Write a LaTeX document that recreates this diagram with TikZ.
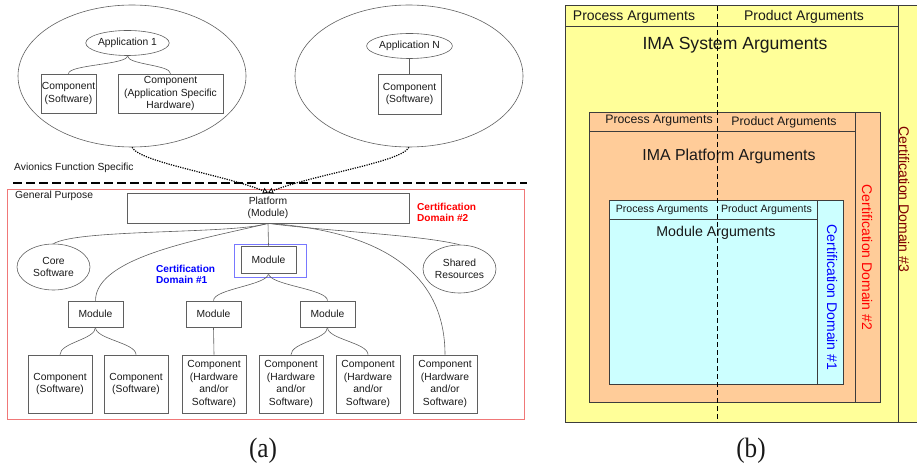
\documentclass[tikz,border=0pt]{standalone}
\usepackage{fontspec}
\setmainfont{Liberation Sans}
\newfontfamily\capfont{Liberation Serif}
\usetikzlibrary{arrows.meta,shapes.geometric}
\newcommand\setfs[2]{\fontsize{#1}{#2}\selectfont}

\definecolor{inktext}{RGB}{25,25,25}
\definecolor{linegray}{RGB}{95,95,95}
\definecolor{frameline}{RGB}{60,60,60}
\definecolor{gpred}{RGB}{240,120,120}
\definecolor{cdblue}{RGB}{120,120,255}
\definecolor{sysyellow}{RGB}{255,255,153}
\definecolor{platpeach}{RGB}{255,204,153}
\definecolor{modcyan}{RGB}{204,255,255}
\definecolor{domthree}{RGB}{128,0,0}

\begin{document}
\begin{tikzpicture}[x=1pt,y=-1pt,
  every node/.style={inner sep=0pt, align=center, text=inktext},
  txt/.style={font=\setfs{10.3}{12.6}},
  conn/.style={draw=linegray, line width=0.6pt},
  rbox/.style={draw=linegray, line width=0.7pt, txt},
  comp/.style={rbox, minimum width=64pt, minimum height=58pt},
  modbox/.style={rbox, minimum width=55pt, minimum height=26pt},
  oval/.style={draw=linegray, line width=0.6pt, ellipse, txt},
  dotlink/.style={draw=black, line width=1.2pt, dash pattern=on 1.2pt off 1.2pt,
    -{Triangle[open,length=5pt,width=6pt,line width=0.8pt]}},
  domlabel/.style={font=\bfseries\setfs{10.1}{11.6}, align=left},
  frame/.style={draw=frameline, line width=1pt},
  argsmall/.style={font=\setfs{10.6}{12}},
  argmid/.style={font=\setfs{12.3}{14}},
  arglarge/.style={font=\setfs{14}{16}},
  sidelabel/.style={font=\setfs{14}{16}, rotate=-90},
  caption/.style={font=\capfont\setfs{28}{30}}
]
\useasboundingbox (0,0) rectangle (917,470);

%% ---------------- (a) layered architecture ----------------
% application ellipses
\node[oval, minimum width=228pt, minimum height=142pt] (app1area) at (132,76) {};
\node[oval, minimum width=228pt, minimum height=142pt] (appNarea) at (409,76) {};
\node[oval, minimum width=72pt, minimum height=25pt] (app1) at (127.5,43) {Application 1};
\node[oval, minimum width=83pt, minimum height=25pt] (appN) at (409.5,46) {Application N};
\node[rbox, minimum width=55pt, minimum height=39pt] (a1sw) at (68.5,93.5) {Component\\(Software)};
\node[rbox, minimum width=105pt, minimum height=39pt] (a1hw) at (170.5,93.5) {Component\\(Application Specific\\Hardware)};
\node[rbox, minimum width=63pt, minimum height=40pt] (aNsw) at (409.5,94) {Component\\(Software)};

\draw[conn] (app1.south) .. controls +(0,9) and +(0,-9) .. (a1sw.north);
\draw[conn] (app1.south) .. controls +(0,9) and +(0,-9) .. (a1hw.north);
\draw[conn] (appN.south) -- (aNsw.north);

% split between function specific and general purpose layers
\node[txt, anchor=west] (afs) at (14,168) {Avionics Function Specific};
\coordinate (splitL) at (13,183);
\coordinate (splitR) at (527,183);
\draw[black, line width=2.2pt, dash pattern=on 9pt off 4pt] (splitL) -- (splitR);

% general purpose region
\draw[gpred, line width=1pt] (7,190) rectangle (524,419);
\node[txt, anchor=west] (gp) at (15,195.5) {General Purpose};

\node[rbox, minimum width=282pt, minimum height=30pt] (plat) at (268,208) {Platform\\(Module)};
\node[domlabel, text=red, anchor=west] (cd2) at (417,212.5) {Certification\\Domain \#2};

\draw[dotlink] (app1area.south) .. controls +(8,15) and +(-45,-18) .. (plat.north);
\draw[dotlink] (appNarea.south) .. controls +(-8,15) and +(45,-18) .. (plat.north);

\node[oval, minimum width=73pt, minimum height=46pt] (core) at (53.5,267) {Core\\Software};
\node[oval, minimum width=73pt, minimum height=48pt] (shared) at (459.5,269) {Shared\\Resources};

\node[modbox, minimum height=27pt] (mtop) at (268.5,259.5) {Module};
\node[draw=cdblue, line width=0.9pt, minimum width=72pt, minimum height=33pt] (cd1box) at (270,260.5) {};
\node[domlabel, text=blue, anchor=west] (cd1) at (156,274.5) {Certification\\Domain \#1};

\node[modbox] (mleft) at (95.5,314) {Module};
\node[modbox] (mmid) at (213.5,314) {Module};
\node[modbox] (mright) at (327.5,314) {Module};

\node[comp] (c1) at (60,384) {Component\\(Software)};
\node[comp] (c2) at (136,384) {Component\\(Software)};
\node[comp] (c3) at (214,384) {Component\\(Hardware\\and/or\\Software)};
\node[comp] (c4) at (291,384) {Component\\(Hardware\\and/or\\Software)};
\node[comp] (c5) at (368,384) {Component\\(Hardware\\and/or\\Software)};
\node[comp] (c6) at (445,384) {Component\\(Hardware\\and/or\\Software)};

% platform fan-out
\draw[conn] (plat.south) .. controls +(-35,11) and +(25,-15) .. (core.north);
\draw[conn] (plat.south) .. controls +(-60,15) and +(0,-45) .. (mleft.north);
\draw[conn] (plat.south) -- (mtop.north);
\draw[conn] (plat.south) .. controls +(60,8) and +(-40,-10) .. (shared.north);
\draw[conn] (plat.south) .. controls +(72,5) and +(0,-105) .. (c6.north);

% module fan-out
\draw[conn] (mtop.south) .. controls +(0,12) and +(0,-12) .. (mmid.north);
\draw[conn] (mtop.south) .. controls +(0,12) and +(0,-12) .. (mright.north);
\draw[conn] (mleft.south) .. controls +(0,12) and +(0,-12) .. (c1.north);
\draw[conn] (mleft.south) .. controls +(0,12) and +(0,-12) .. (c2.north);
\draw[conn] (mmid.south) -- (c3.north);
\draw[conn] (mright.south) .. controls +(0,12) and +(0,-12) .. (c4.north);
\draw[conn] (mright.south) .. controls +(0,12) and +(0,-12) .. (c5.north);

\node[caption] (capa) at (263,451) {\scalebox{0.9}[1]{(a)}};

%% ---------------- (b) nested argument domains ----------------
% system level
\fill[sysyellow] (565,6) rectangle (930,422);
\draw[frame] (930,6) -- (565,6) -- (565,422) -- (930,422);
\draw[frame] (565,27) -- (898,27);
\draw[frame] (898,6) -- (898,422);
\node[arglarge] (sysproc) at (634,17) {Process Arguments};
\node[arglarge] (sysprod) at (804,17) {Product Arguments};
\node[font=\setfs{17.6}{20}] (sysargs) at (735,45) {IMA System Arguments};
\node[sidelabel, text=domthree] (cd3side) at (904,199.5) {Certification Domain \#3};

% platform level
\filldraw[fill=platpeach, frame] (589,113) rectangle (880,402);
\draw[frame] (589,132) -- (855,132);
\draw[frame] (855,113) -- (855,402);
\node[argmid] (platproc) at (659,121) {Process Arguments};
\node[argmid] (platprod) at (784,122) {Product Arguments};
\node[font=\setfs{15.9}{18}] (platargs) at (729,156) {IMA Platform Arguments};
\node[sidelabel, text=red] (cd2side) at (867,257.5) {Certification Domain \#2};

% module level
\filldraw[fill=modcyan, frame] (609,201) rectangle (843,384);
\draw[frame] (609,220) -- (817,220);
\draw[frame] (817,201) -- (817,384);
\node[argsmall] (modproc) at (662,209.5) {Process Arguments};
\node[argsmall] (modprod) at (766.5,210) {Product Arguments};
\node[font=\setfs{14.2}{16}] (modargs) at (716,233) {Module Arguments};
\node[sidelabel, text=blue] (cd1side) at (832,297.5) {Certification Domain \#1};

% process / product divide
\draw[black, line width=0.9pt, dash pattern=on 5pt off 3pt] (717,6) -- (717,422);

\node[caption] (capb) at (751,451) {\scalebox{0.9}[1]{(b)}};
\end{tikzpicture}
\end{document}
